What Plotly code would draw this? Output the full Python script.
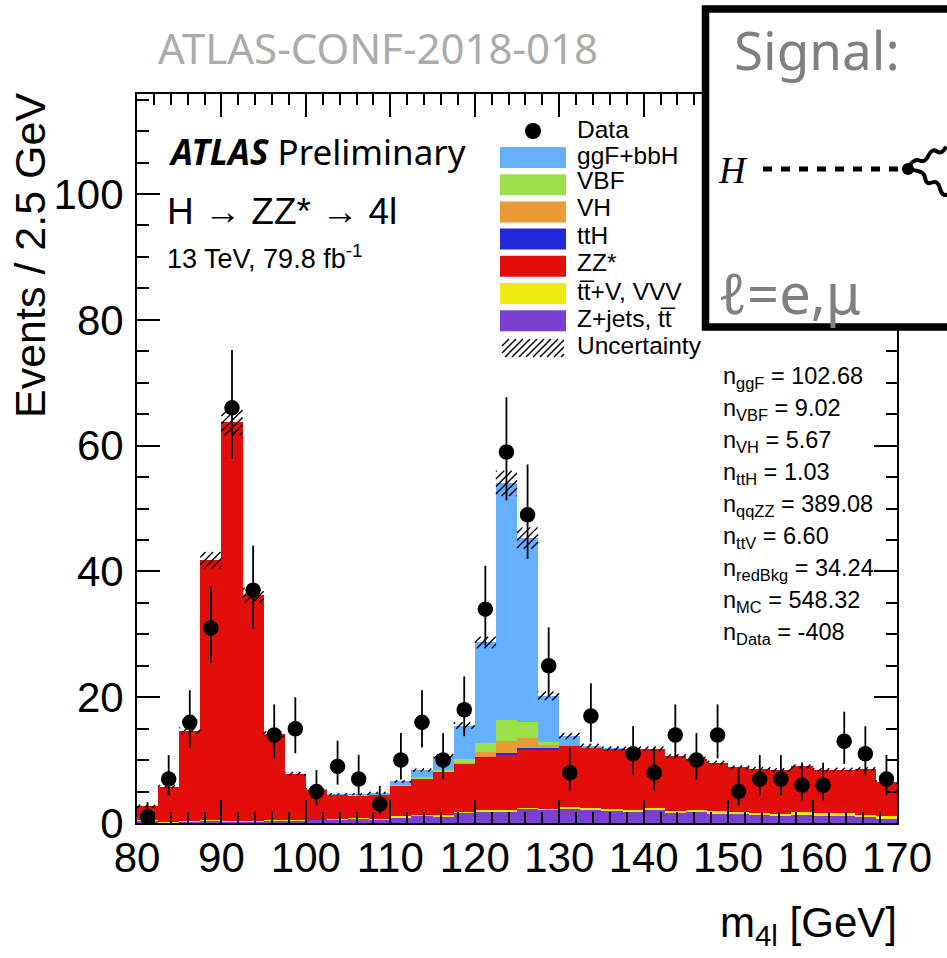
import numpy as np
import plotly.graph_objects as go

# ---------- data ----------
bin_edges_low = [80, 82.5, 85, 87.5, 90, 92.5, 95, 97.5, 100, 102.5, 105, 107.5, 110, 112.5, 115, 117.5, 120, 122.5,
                 125, 127.5, 130, 132.5, 135, 137.5, 140, 142.5, 145, 147.5, 150, 152.5, 155, 157.5, 160, 162.5, 165, 167.5]
zjets = [.35, .1, .3, .35, .25, .3, .35, .4, .5, .55, .75, .55, .85, 1.2, 1.1, 1.7, 1.9, 1.85,
         2.35, 2.1, 2.3, 2.1, 1.95, 1.85, 2.1, 1.7, 1.85, 1.5, 1.5, 1.25, 1.1, 1.25, 1.1, 1.1, .9, .75]
ttv = [.05, .05, .05, .05, .05, .05, .05, .1, .05, .05, .05, .05, .2, .1, .1, .05, .2, .15,
       .1, .2, .25, .35, .2, .2, .25, .25, .25, .4, .3, .4, .4, .45, .45, .45, .35, .3]
zz = [2.25, 5.65, 14.35, 41.4, 63.4, 35.85, 13.7, 7.3, 4.75, 3.95, 3.6, 3.95, 4.95, 5.85, 7.0, 7.65, 8.3, 8.75,
      9.1, 9.45, 9.7, 9.55, 9.65, 9.75, 9.45, 8.65, 8.1, 7.7, 7.05, 6.95, 6.9, 7.3, 6.85, 6.95, 7.3, 5.45]
tth = [0, 0, 0, 0, 0, 0, 0, 0, 0, 0, 0, 0, 0, 0, .02, .03, .1, .45,
       .35, .1, 0, 0, 0, 0, 0, 0, 0, 0, 0, 0, 0, 0, 0, 0, 0, 0]
vh = [0, 0, 0, 0, 0, 0, 0, 0, 0, 0, 0, 0, .02, 0, .03, .07, .8, 1.9,
      1.6, .5, .02, 0, 0, 0, 0, 0, 0, 0, 0, 0, 0, 0, 0, 0, 0, 0]
vbf = [0, 0, 0, 0, 0, 0, 0, 0, 0, 0, .1, .05, .03, .1, .2, .6, 1.4, 3.3,
       2.5, .45, .03, 0, 0, 0, 0, 0, 0, 0, 0, 0, 0, 0, 0, 0, 0, 0]
ggf = [0, 0, 0, 0, 0, 0, 0, 0, .02, .05, .1, .2, .55, 1.15, 2.15, 5.4, 16.0, 37.6,
       29.3, 7.4, 1.5, .25, .03, 0, 0, 0, 0, 0, 0, 0, 0, 0, 0, 0, 0, 0]
uncertainty = [.25, .25, .5, 1.3, 2.1, 1.2, .5, .3, .2, .15, .15, .15, .2, .25, .35, .5, .9, 2.0,
               1.7, .7, .5, .35, .35, .35, .35, .35, .3, .3, .3, .3, .3, .3, .3, .3, .3, .25]
data_counts = [1, 7, 16, 31, 66, 37, 14, 15, 5, 9, 7, 3, 10, 16, 10, 18, 34, 59,
               49, 25, 8, 17, None, 11, 8, 14, 10, 14, 5, 7, 7, 6, 6, 13, 11, 7]
data_err_up = [2.3, 3.8, 5.1, 6.6, 9.2, 7.1, 4.85, 5.0, 3.4, 4.1, 3.8, 2.9, 4.3, 5.1, 4.3, 5.3, 6.9, 8.7,
               8.0, 6.1, 3.95, 5.2, None, 4.4, 3.95, 4.85, 4.3, 4.85, 3.4, 3.8, 3.8, 3.6, 3.6, 4.7, 4.4, 3.8]
data_err_dn = [.83, 2.6, 4.0, 5.5, 8.1, 6.1, 3.7, 3.9, 2.2, 2.9, 2.6, 1.6, 3.1, 4.0, 3.1, 4.2, 5.8, 7.7,
               7.0, 5.0, 2.8, 4.1, None, 3.3, 2.8, 3.7, 3.1, 3.7, 2.2, 2.6, 2.6, 2.4, 2.4, 3.6, 3.3, 2.6]

bin_width = 2.5
stack_names = ["Z+jets, tt\u0305", "tt\u0305+V, VVV", "ZZ*", "ttH", "VH", "VBF", "ggF+bbH"]
stack_colors = ["#7b3fd1", "#efe911", "#e30d0a", "#2229db", "#ea9b37", "#99e04a", "#64b0fe"]
legend_names = ["ggF+bbH", "VBF", "VH", "ttH", "ZZ*", "tt\u0305+V, VVV", "Z+jets, tt\u0305"]
legend_colors = ["#64b0fe", "#99e04a", "#ea9b37", "#2229db", "#e30d0a", "#efe911", "#7b3fd1"]
legend_text_y = [155, 180, 208, 235, 262, 291, 318]
stats_text = ["ggF", "VBF", "VH", "ttH", "qqZZ", "ttV", "redBkg", "MC", "Data"]
stats_vals = ["102.68", "9.02", "5.67", "1.03", "389.08", "6.60", "34.24", "548.32", "-408"]

# ---------- layout geometry (page pixels) ----------
W, H = 947, 958
L, R, T, B = 137, 897, 94, 823
x_range, y_range = [80, 170], [0, 115.9]
def px(x): return (x - L) / (R - L)
def py(y): return (B - y) / (B - T)

centers = np.array(bin_edges_low) + bin_width / 2
fig = go.Figure()
base = np.zeros(len(centers))
for name, color, vals in zip(stack_names, stack_colors, [zjets, ttv, zz, tth, vh, vbf, ggf]):
    vals = np.array(vals, dtype=float)
    fig.add_bar(x=centers, y=vals, base=base, width=bin_width, name=name, marker=dict(color=color, line_width=0))
    base = base + vals

# uncertainty band: 45-degree hatch lines clipped to each bin's band around the stack top
unc = np.array(uncertainty)
sx = (R - L) / (x_range[1] - x_range[0])   # pixels per GeV
sy = (B - T) / (y_range[1] - y_range[0])   # pixels per event
hatch_period = 7.5
hx, hy = [], []
for low, top, u in zip(bin_edges_low, base, unc):
    x0, x1 = (low - 80) * sx, (low + bin_width - 80) * sx
    y0, y1 = (top - u) * sy, (top + u) * sy
    c = np.floor((x0 - y1) / hatch_period) * hatch_period
    while c < x1 - y0:
        ya, yb = max(y0, x0 - c), min(y1, x1 - c)
        if yb > ya:
            hx += [80 + (ya + c) / sx, 80 + (yb + c) / sx, None]
            hy += [ya / sy, yb / sy, None]
        c += hatch_period
fig.add_scatter(x=hx, y=hy, mode="lines", name="Uncertainty", line=dict(color="black", width=1.4), hoverinfo="skip")

fig.add_scatter(x=centers, y=data_counts, mode="markers", name="Data",
                marker=dict(color="black", size=15.5),
                error_y=dict(type="data", symmetric=False, array=data_err_up, arrayminus=data_err_dn,
                             color="black", thickness=1.8, width=0))
# empty trace that brings the overlay axes (ticks drawn above the bars) into being
fig.add_scatter(x=[None], y=[None], xaxis="x2", yaxis="y2", mode="markers", showlegend=False, hoverinfo="skip")

SANS = "Liberation Sans"
HUM = "Noto Sans"
ann = []
def text(x, y, s, size, font=SANS, color="black", xanchor="left", yanchor="middle", angle=0):
    ann.append(dict(xref="paper", yref="paper", x=px(x), y=py(y), text=s, showarrow=False, xanchor=xanchor,
                    yanchor=yanchor, textangle=angle, font=dict(family=font, size=size, color=color),
                    borderpad=0, borderwidth=0))

shapes = []
# white signal box
text(158, 48, "ATLAS-CONF-2018-018", 42, HUM, "#ababab")
shapes.append(dict(type="rect", xref="paper", yref="paper", x0=px(705.5), x1=px(975), y0=py(327), y1=py(9),
                   fillcolor="white", line=dict(color="black", width=7.5), layer="above"))
text(734, 50, "Signal:", 53, HUM, "#808080")
text(718, 170, "<i>H</i>", 37, "Liberation Serif", "black")
shapes.append(dict(type="line", xref="paper", yref="paper", x0=px(763), x1=px(905), y0=py(169), y1=py(169),
                   line=dict(color="black", width=5, dash="9px,9px"), layer="above"))
def wave(pts):
    p = [(px(a), py(b)) for a, b in pts]
    d = f"M {p[0][0]:.5f} {p[0][1]:.5f}"
    for i in range(1, len(p) - 1):
        mx, my = (p[i][0] + p[i + 1][0]) / 2, (p[i][1] + p[i + 1][1]) / 2
        d += f" Q {p[i][0]:.5f} {p[i][1]:.5f} {mx:.5f} {my:.5f}"
    return dict(type="path", xref="paper", yref="paper", path=d, line=dict(color="black", width=4), layer="above")
shapes.append(wave([(908, 168), (914, 158), (925, 163), (932, 148), (942, 155), (950, 138)]))
shapes.append(wave([(908, 170), (924, 170), (926, 185), (938, 180), (942, 197), (955, 192)]))
shapes.append(dict(type="circle", xref="paper", yref="paper", x0=px(902), x1=px(914), y0=py(175), y1=py(163),
                   fillcolor="black", line_width=0, layer="above"))
text(718, 292, "\u2113=e,\u03bc", 56, HUM, "#808080")

# ATLAS label
text(168, 151, "<b><i>ATLAS</i></b> Preliminary", 35, HUM)
text(167, 211, "H \u2192 ZZ* \u2192 4l", 37)
text(167, 257, "13 TeV, 79.8 fb<sup>-1</sup>", 27)

# legend
shapes.append(dict(type="circle", xref="paper", yref="paper", x0=px(525), x1=px(541), y0=py(139), y1=py(123),
                   fillcolor="black", line_width=0))
text(577, 129, "Data", 24.5)
for i, (nm, col, ty) in enumerate(zip(legend_names, legend_colors, legend_text_y)):
    top = 147 + 27.2 * i
    shapes.append(dict(type="rect", xref="paper", yref="paper", x0=px(500), x1=px(566), y0=py(top + 21), y1=py(top),
                       fillcolor=col, line_width=0))
    text(577, ty, nm, 24.5)
text(577, 345, "Uncertainty", 24.5)
for x0 in range(484, 566, 7):
    ya, yb, xa, xb = 357.0, 339.0, float(x0), float(x0 + 18)
    if xa < 502:
        ya -= 502 - xa; xa = 502.0
    if xb > 564:
        yb += xb - 564; xb = 564.0
    shapes.append(dict(type="line", xref="paper", yref="paper", x0=px(xa), x1=px(xb), y0=py(ya), y1=py(yb),
                       line=dict(color="black", width=1.5)))

# stats
for i, (lab, val) in enumerate(zip(stats_text, stats_vals)):
    text(723, 377 + 32 * i, f"n<sub>{lab}</sub> = {val}", 23.5)

# axis titles
text(897, 925, "m<sub>4l</sub> [GeV]", 42, xanchor="right")
text(30, 256, "Events / 2.5 GeV", 43, xanchor="center", angle=-90)

tick_common = dict(mirror="allticks", ticks="inside", ticklen=23, tickwidth=2, tickcolor="black")
axis_common = dict(showgrid=False, zeroline=False, showline=True, linecolor="black", linewidth=2,
                   mirror=True, ticks="", tickfont=dict(family=SANS, size=42, color="black"))
fig.update_layout(
    width=W, height=H, margin=dict(l=L, r=W - R, t=T, b=H - B, pad=0), barmode="overlay", bargap=0,
    plot_bgcolor="white", paper_bgcolor="white", showlegend=False, annotations=ann, shapes=shapes,
    xaxis=dict(range=x_range, dtick=10, tick0=80, ticklabelstandoff=-3, **axis_common),
    yaxis=dict(range=y_range, dtick=20, tick0=0, ticklabelstandoff=3, **axis_common),
    xaxis2=dict(range=x_range, dtick=10, tick0=80, overlaying="x", anchor="y2", showgrid=False, zeroline=False,
                showticklabels=False, showline=True, linecolor="black", linewidth=2,
                minor=dict(dtick=2, ticks="inside", ticklen=11, tickwidth=2, tickcolor="black"), **tick_common),
    yaxis2=dict(range=y_range, dtick=20, tick0=0, overlaying="y", anchor="x2", showgrid=False, zeroline=False,
                showticklabels=False, showline=True, linecolor="black", linewidth=2,
                minor=dict(dtick=5, ticks="inside", ticklen=11.5, tickwidth=2, tickcolor="black"), **tick_common),
)
fig.write_html("out.html", config={"displayModeBar": False}, post_script="document.body.style.margin='0';")
